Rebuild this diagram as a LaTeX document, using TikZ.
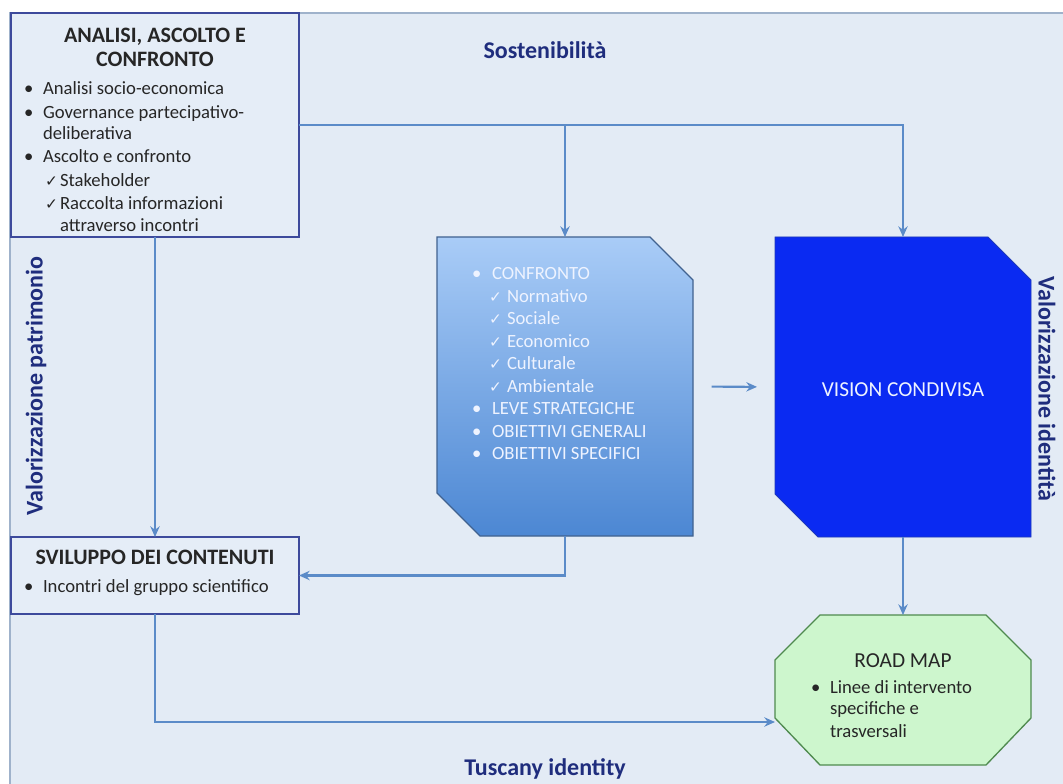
\documentclass[tikz,border=0pt]{standalone}
\usepackage{fontspec}
\setmainfont{Carlito}
\newfontfamily\symfont{DejaVu Sans}
\usetikzlibrary{arrows.meta}
\definecolor{bgc}{HTML}{E3EBF5}
\definecolor{bgline}{HTML}{9FB2CB}
\definecolor{boxfill}{HTML}{E5EDF7}
\definecolor{boxline}{HTML}{3D4A9C}
\definecolor{txtc}{HTML}{262626}
\definecolor{wtc}{HTML}{EEF3FF}
\definecolor{sidec}{HTML}{1F2D7D}
\definecolor{arrc}{HTML}{5B8BC8}
\definecolor{conftop}{HTML}{A9CCF7}
\definecolor{confbot}{HTML}{4C87D3}
\definecolor{confline}{HTML}{41628F}
\definecolor{visfill}{HTML}{0A2AF2}
\definecolor{visline}{HTML}{1F3AB8}
\definecolor{rmfill}{HTML}{CDF6CD}
\definecolor{rmline}{HTML}{4F8A4F}
\begin{document}
\begin{tikzpicture}[x=0.75pt,y=-0.75pt,
  txt/.style={font=\fontsize{14}{16}\selectfont, inner sep=0pt, outer sep=0pt, anchor=base west, text=txtc},
  wtxt/.style={txt, text=wtc},
  chk/.style={font=\symfont\fontsize{11.5}{13}\selectfont, inner sep=0pt, outer sep=0pt, anchor=base west, text=txtc},
  wchk/.style={chk, text=wtc},
  ttl/.style={font=\bfseries\fontsize{16.5}{18}\selectfont, inner sep=0pt, outer sep=0pt, anchor=base, text=txtc},
  side/.style={font=\bfseries\fontsize{18}{20}\selectfont, text=sidec, inner sep=0pt},
  arr/.style={draw=arrc, line width=1.6pt, -{Stealth[length=8pt,width=7pt]}},
  plainbox/.style={rectangle, draw=boxline, fill=boxfill, line width=1.2pt, inner sep=0pt, outer sep=0pt, minimum width=216pt},
  anchorbox/.style={rectangle, draw=none, fill=none, inner sep=0pt, outer sep=0pt, minimum width=192pt},
]
\useasboundingbox (0,0) rectangle (1063,784);
\fill[bgc] (10,13) rectangle (1063,784);
\draw[bgline, line width=1.5pt] (10,784) -- (10,13) -- (1063,13);

% boxes
\node[plainbox, minimum height=168pt] (analisi) at (155,125) {};
\node[plainbox, minimum height=57.75pt] (sviluppo) at (155,575.5) {};

\node[anchorbox, minimum height=224.25pt] (confronto) at (565,386.5) {};
\path[draw=confline, line width=1pt, top color=conftop, bottom color=confbot]
  (confronto.north west) -- ([xshift=-32.25pt]confronto.north east)
  -- ([yshift=-32.25pt]confronto.north east) -- (confronto.south east)
  -- ([xshift=32.25pt]confronto.south west) -- ([yshift=32.25pt]confronto.south west) -- cycle;

\node[anchorbox, minimum height=225pt] (vision) at (903,387) {};
\path[fill=visfill, draw=visline, line width=0.6pt]
  (vision.north west) -- ([xshift=-32.25pt]vision.north east)
  -- ([yshift=-32.25pt]vision.north east) -- (vision.south east)
  -- ([xshift=32.25pt]vision.south west) -- ([yshift=32.25pt]vision.south west) -- cycle;

\node[anchorbox, minimum height=112.5pt] (roadmap) at (903,690) {};
\path[fill=rmfill, draw=rmline, line width=1pt]
  ([xshift=33.75pt]roadmap.north west) -- ([xshift=-33.75pt]roadmap.north east)
  -- ([yshift=-33.75pt]roadmap.north east) -- ([yshift=35.25pt]roadmap.south east)
  -- ([xshift=-33.75pt]roadmap.south east) -- ([xshift=33.75pt]roadmap.south west)
  -- ([yshift=35.25pt]roadmap.south west) -- ([yshift=-33.75pt]roadmap.north west) -- cycle;

% box 1 text
\node[ttl] (a0) at (155,43) {ANALISI, ASCOLTO E};
\node[ttl] (a00) at (155,67) {CONFRONTO};
\node[txt] (b1) at (24,95) {•};
\node[txt] (a1) at (43,95) {Analisi socio-economica};
\node[txt] (b2) at (24,119) {•};
\node[txt] (a2) at (43,119) {Governance partecipativo-};
\node[txt] (a3) at (43,140) {deliberativa};
\node[txt] (b3) at (24,163) {•};
\node[txt] (a4) at (43,163) {Ascolto e confronto};
\node[chk] (c1) at (45,187) {✓};
\node[txt] (a5) at (60,187) {Stakeholder};
\node[chk] (c2) at (45,210) {✓};
\node[txt] (a6) at (60,210) {Raccolta informazioni};
\node[txt] (a7) at (60,232) {attraverso incontri};

% box 2 text
\node[ttl] (s0) at (155,564) {SVILUPPO DEI CONTENUTI};
\node[txt] (b4) at (24,592) {•};
\node[txt] (s1) at (43,592) {Incontri del gruppo scientifico};

% confronto text
\node[wtxt] (b5) at (472,280) {•};
\node[wtxt] (f0) at (492,280) {CONFRONTO};
\node[wchk] (c3) at (489,302) {✓};
\node[wtxt] (f1) at (507,302) {Normativo};
\node[wchk] (c4) at (489,324) {✓};
\node[wtxt] (f2) at (507,324) {Sociale};
\node[wchk] (c5) at (489,347) {✓};
\node[wtxt] (f3) at (507,347) {Economico};
\node[wchk] (c6) at (489,369) {✓};
\node[wtxt] (f4) at (507,369) {Culturale};
\node[wchk] (c7) at (489,392) {✓};
\node[wtxt] (f5) at (507,392) {Ambientale};
\node[wtxt] (b6) at (472,414) {•};
\node[wtxt] (f6) at (492,414) {LEVE STRATEGICHE};
\node[wtxt] (b7) at (472,437) {•};
\node[wtxt] (f7) at (492,437) {OBIETTIVI GENERALI};
\node[wtxt] (b8) at (472,459) {•};
\node[wtxt] (f8) at (492,459) {OBIETTIVI SPECIFICI};

% vision text
\node[font=\fontsize{16}{18}\selectfont, text=wtc, inner sep=0pt, anchor=base] (v0) at (903,396) {VISION CONDIVISA};

% road map text
\node[font=\fontsize{16}{18}\selectfont, text=txtc, inner sep=0pt, anchor=base] (r0) at (903,667) {ROAD MAP};
\node[txt] (b9) at (811,693) {•};
\node[txt] (r1) at (830,693) {Linee di intervento};
\node[txt] (r2) at (830,714) {specifiche e};
\node[txt] (r3) at (830,737) {trasversali};

% side labels
\node[side] (sost) at (545,50) {Sostenibilità};
\node[side, rotate=90] (vpat) at (36,386) {Valorizzazione patrimonio};
\node[side, rotate=-90] (vid) at (1047,389) {Valorizzazione identità};
\node[side] (tusc) at (545,769) {Tuscany identity};

% connectors
\coordinate (j1) at (565,125);
\coordinate (j2) at (903,125);
\coordinate (rmin) at (775,722);
\draw[arr] (analisi.east) -- (j2) -- (vision.north);
\draw[arr] (j1) -- (confronto.north);
\draw[arr] (analisi.south) -- (sviluppo.north);
\draw[arr] (confronto.south) |- (sviluppo.east);
\draw[arr] (sviluppo.south) |- (rmin);
\draw[arr] (vision.south) -- (roadmap.north);
\draw[arr, shorten <=14pt, shorten >=13.5pt] (confronto.east) -- (vision.west);
\end{tikzpicture}
\end{document}
